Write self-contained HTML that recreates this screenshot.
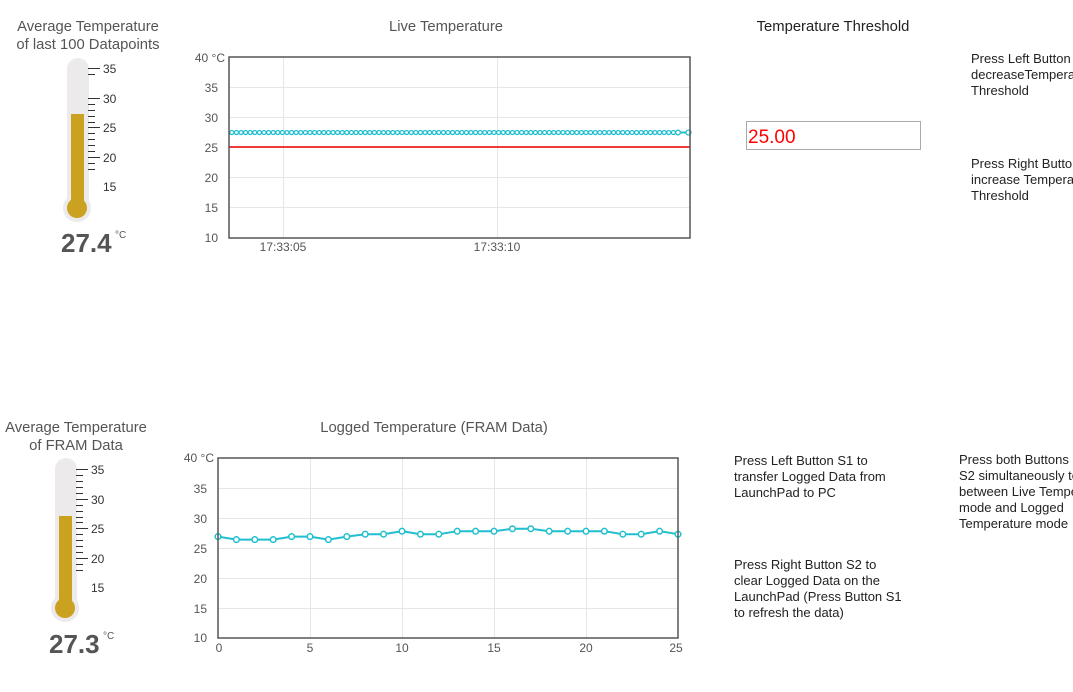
<!DOCTYPE html>
<html><head><meta charset="utf-8"><style>
html,body{margin:0;padding:0;width:1073px;height:692px;overflow:hidden;background:#fff;font-family:"Liberation Sans",sans-serif}
.t{position:absolute;font-size:13px;color:#222;line-height:16px;white-space:nowrap}
</style></head><body>
<svg width="1073" height="692" style="position:absolute;left:0;top:0" font-family="Liberation Sans, sans-serif">
<defs>
<pattern id="dots" x="229.5" y="129" width="4.6" height="7" patternUnits="userSpaceOnUse">
<circle cx="2.3" cy="3.5" r="2" fill="#fff" stroke="#1fbfcf" stroke-width="1.3"/>
</pattern>
</defs>
<g fill="#555" font-size="14.8" text-anchor="middle">
<text x="88" y="31">Average Temperature</text>
<text x="88" y="49">of last 100 Datapoints</text>
<text x="446" y="31">Live Temperature</text>
<text x="833" y="31" fill="#222">Temperature Threshold</text>
<text x="76" y="432">Average Temperature</text>
<text x="76" y="450">of FRAM Data</text>
<text x="434" y="432">Logged Temperature (FRAM Data)</text>
</g>
<g>
<rect x="67" y="58" width="22" height="150" rx="11" fill="#eceaea"/>
<circle cx="77" cy="208" r="14" fill="#eceaea"/>
<rect x="71" y="114" width="13" height="94" fill="#caa21f"/>
<circle cx="77" cy="208" r="10" fill="#caa21f"/>
<g stroke="#333" stroke-width="1">
<line x1="88" y1="68.5" x2="100" y2="68.5"/><line x1="88" y1="98.5" x2="100" y2="98.5"/><line x1="88" y1="127.5" x2="100" y2="127.5"/><line x1="88" y1="157.5" x2="100" y2="157.5"/>
<line x1="88" y1="74.5" x2="95" y2="74.5"/>
<line x1="88" y1="104.5" x2="95" y2="104.5"/><line x1="88" y1="110.5" x2="95" y2="110.5"/><line x1="88" y1="116.5" x2="95" y2="116.5"/><line x1="88" y1="122.5" x2="95" y2="122.5"/>
<line x1="88" y1="133.5" x2="95" y2="133.5"/><line x1="88" y1="139.5" x2="95" y2="139.5"/><line x1="88" y1="145.5" x2="95" y2="145.5"/><line x1="88" y1="151.5" x2="95" y2="151.5"/>
<line x1="88" y1="163.5" x2="95" y2="163.5"/><line x1="88" y1="169.5" x2="95" y2="169.5"/>
</g>
<g font-size="12" fill="#333"><text x="103" y="73">35</text><text x="103" y="103">30</text><text x="103" y="132">25</text><text x="103" y="162">20</text><text x="103" y="191">15</text></g>
<text x="61" y="252" font-size="26" font-weight="bold" fill="#555">27.4</text><text x="115" y="238" font-size="10" fill="#555">°C</text>
</g>
<g>
<rect x="55" y="458" width="22" height="150" rx="11" fill="#eceaea"/>
<circle cx="65" cy="608" r="14" fill="#eceaea"/>
<rect x="59" y="516" width="13" height="92" fill="#caa21f"/>
<circle cx="65" cy="608" r="10" fill="#caa21f"/>
<g stroke="#333" stroke-width="1">
<line x1="76" y1="469.5" x2="88" y2="469.5"/><line x1="76" y1="499.5" x2="88" y2="499.5"/><line x1="76" y1="528.5" x2="88" y2="528.5"/><line x1="76" y1="558.5" x2="88" y2="558.5"/>
<line x1="76" y1="475.5" x2="83" y2="475.5"/><line x1="76" y1="481.5" x2="83" y2="481.5"/><line x1="76" y1="487.5" x2="83" y2="487.5"/><line x1="76" y1="493.5" x2="83" y2="493.5"/>
<line x1="76" y1="505.5" x2="83" y2="505.5"/><line x1="76" y1="511.5" x2="83" y2="511.5"/><line x1="76" y1="517.5" x2="83" y2="517.5"/><line x1="76" y1="522.5" x2="83" y2="522.5"/>
<line x1="76" y1="534.5" x2="83" y2="534.5"/><line x1="76" y1="540.5" x2="83" y2="540.5"/><line x1="76" y1="546.5" x2="83" y2="546.5"/><line x1="76" y1="552.5" x2="83" y2="552.5"/>
<line x1="76" y1="564.5" x2="83" y2="564.5"/><line x1="76" y1="570.5" x2="83" y2="570.5"/>
</g>
<g font-size="12" fill="#333"><text x="91" y="474">35</text><text x="91" y="504">30</text><text x="91" y="533">25</text><text x="91" y="563">20</text><text x="91" y="592">15</text></g>
<text x="49" y="653" font-size="26" font-weight="bold" fill="#555">27.3</text><text x="103" y="639" font-size="10" fill="#555">°C</text>
</g>
<g>
<g stroke="#e6e6e6" stroke-width="1">
<line x1="229" y1="87.5" x2="690" y2="87.5"/><line x1="229" y1="117.5" x2="690" y2="117.5"/><line x1="229" y1="147.5" x2="690" y2="147.5"/><line x1="229" y1="177.5" x2="690" y2="177.5"/><line x1="229" y1="207.5" x2="690" y2="207.5"/>
<line x1="283.5" y1="57" x2="283.5" y2="238"/><line x1="497.5" y1="57" x2="497.5" y2="238"/>
</g>
<line x1="229" y1="147" x2="690" y2="147" stroke="#ee3a3a" stroke-width="2"/>
<line x1="231" y1="132.5" x2="689" y2="132.5" stroke="#1fbfcf" stroke-width="2"/>
<rect x="229" y="129" width="450" height="7" fill="url(#dots)"/>
<circle cx="678" cy="132.5" r="2.3" fill="#fff" stroke="#1fbfcf" stroke-width="1.3"/>
<circle cx="688.5" cy="132.5" r="2.5" fill="#fff" stroke="#1fbfcf" stroke-width="1.3"/>
<rect x="229" y="57" width="461" height="181" fill="none" stroke="#555" stroke-width="1.5"/>
<g font-size="12" fill="#555" text-anchor="end">
<text x="225" y="62">40 °C</text><text x="218" y="92">35</text><text x="218" y="122">30</text><text x="218" y="152">25</text><text x="218" y="182">20</text><text x="218" y="212">15</text><text x="218" y="242">10</text>
</g>
<g font-size="12" fill="#555" text-anchor="middle"><text x="283" y="251">17:33:05</text><text x="497" y="251">17:33:10</text></g>
</g>
<g>
<g stroke="#e6e6e6" stroke-width="1">
<line x1="218" y1="488.5" x2="678" y2="488.5"/><line x1="218" y1="518.5" x2="678" y2="518.5"/><line x1="218" y1="548.5" x2="678" y2="548.5"/><line x1="218" y1="578.5" x2="678" y2="578.5"/><line x1="218" y1="608.5" x2="678" y2="608.5"/>
<line x1="310.5" y1="458" x2="310.5" y2="638"/><line x1="402.5" y1="458" x2="402.5" y2="638"/><line x1="494.5" y1="458" x2="494.5" y2="638"/><line x1="586.5" y1="458" x2="586.5" y2="638"/>
</g>
<polyline fill="none" stroke="#1fbfcf" stroke-width="2" points="218,536.6 236.4,539.6 254.8,539.6 273.2,539.6 291.6,536.6 310,536.6 328.4,539.6 346.8,536.6 365.2,534.2 383.6,534.2 402,531.2 420.4,534.2 438.8,534.2 457.2,531.2 475.6,531.2 494,531.2 512.4,528.8 530.8,528.8 549.2,531.2 567.6,531.2 586,531.2 604.4,531.2 622.8,534.2 641.2,534.2 659.6,531.2 678,534.2"/>
<g fill="#fff" stroke="#1fbfcf" stroke-width="1.5">
<circle cx="218" cy="536.6" r="2.8"/><circle cx="236.4" cy="539.6" r="2.8"/><circle cx="254.8" cy="539.6" r="2.8"/><circle cx="273.2" cy="539.6" r="2.8"/><circle cx="291.6" cy="536.6" r="2.8"/><circle cx="310" cy="536.6" r="2.8"/><circle cx="328.4" cy="539.6" r="2.8"/><circle cx="346.8" cy="536.6" r="2.8"/><circle cx="365.2" cy="534.2" r="2.8"/><circle cx="383.6" cy="534.2" r="2.8"/><circle cx="402" cy="531.2" r="2.8"/><circle cx="420.4" cy="534.2" r="2.8"/><circle cx="438.8" cy="534.2" r="2.8"/><circle cx="457.2" cy="531.2" r="2.8"/><circle cx="475.6" cy="531.2" r="2.8"/><circle cx="494" cy="531.2" r="2.8"/><circle cx="512.4" cy="528.8" r="2.8"/><circle cx="530.8" cy="528.8" r="2.8"/><circle cx="549.2" cy="531.2" r="2.8"/><circle cx="567.6" cy="531.2" r="2.8"/><circle cx="586" cy="531.2" r="2.8"/><circle cx="604.4" cy="531.2" r="2.8"/><circle cx="622.8" cy="534.2" r="2.8"/><circle cx="641.2" cy="534.2" r="2.8"/><circle cx="659.6" cy="531.2" r="2.8"/><circle cx="678" cy="534.2" r="2.8"/>
</g>
<rect x="218" y="458" width="460" height="180" fill="none" stroke="#555" stroke-width="1.5"/>
<g font-size="12" fill="#555" text-anchor="end">
<text x="214" y="462">40 °C</text><text x="207" y="493">35</text><text x="207" y="523">30</text><text x="207" y="553">25</text><text x="207" y="583">20</text><text x="207" y="613">15</text><text x="207" y="642">10</text>
</g>
<g font-size="12" fill="#555" text-anchor="middle"><text x="219" y="652">0</text><text x="310" y="652">5</text><text x="402" y="652">10</text><text x="494" y="652">15</text><text x="586" y="652">20</text><text x="676" y="652">25</text></g>
</g>
<rect x="746.5" y="121.5" width="174" height="28" fill="#fff" stroke="#aaa" stroke-width="1"/>
<text x="748" y="143" font-size="19" fill="#f00">25.00</text>
</svg>
<div class="t" style="left:971px;top:51px">Press Left Button S1 to<br>decreaseTemperature<br>Threshold</div>
<div class="t" style="left:971px;top:156px">Press Right Button S2 to<br>increase Temperature<br>Threshold</div>
<div class="t" style="left:734px;top:453px">Press Left Button S1 to<br>transfer Logged Data from<br>LaunchPad to PC</div>
<div class="t" style="left:734px;top:557px">Press Right Button S2 to<br>clear Logged Data on the<br>LaunchPad (Press Button S1<br>to refresh the data)</div>
<div class="t" style="left:959px;top:452px">Press both Buttons S1 and<br>S2 simultaneously to switch<br>between Live Temperature<br>mode and Logged<br>Temperature mode</div>
</body></html>
